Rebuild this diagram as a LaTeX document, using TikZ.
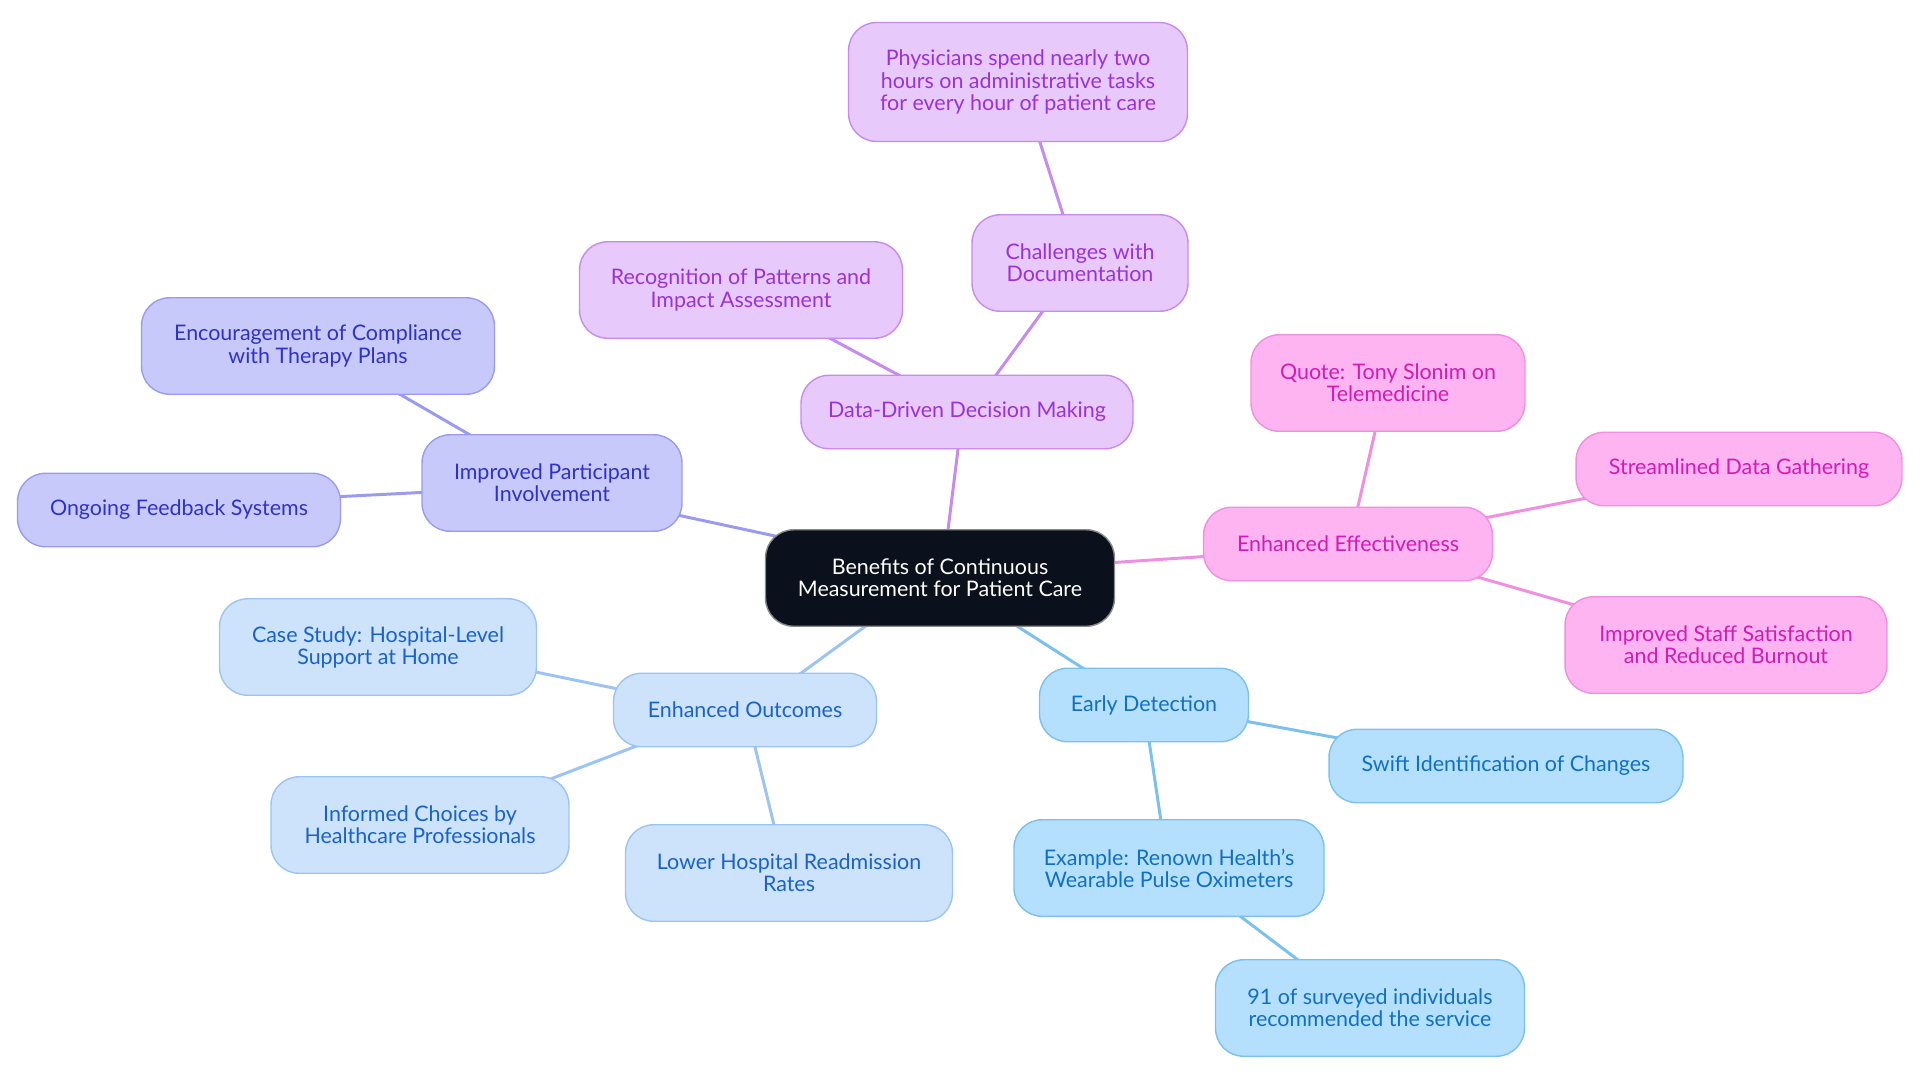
\documentclass[tikz,border=0pt]{standalone}
\usepackage{fontspec}
\setmainfont{Lato}
\definecolor{RootFill}{HTML}{0B111C}
\definecolor{RootLine}{HTML}{8A8A8A}
\definecolor{PurpleFill}{HTML}{E7C9FB}
\definecolor{PurpleLine}{HTML}{C78BF0}
\definecolor{PurpleText}{HTML}{9B32D9}
\definecolor{VioletFill}{HTML}{C8C9FB}
\definecolor{VioletLine}{HTML}{9A9BF0}
\definecolor{VioletText}{HTML}{2F32C9}
\definecolor{PinkFill}{HTML}{FDB4F1}
\definecolor{PinkLine}{HTML}{F08FE0}
\definecolor{PinkText}{HTML}{D21BB4}
\definecolor{SkyFill}{HTML}{B4E0FD}
\definecolor{SkyLine}{HTML}{7CC0F0}
\definecolor{SkyText}{HTML}{1170C2}
\definecolor{PaleFill}{HTML}{CCE3FB}
\definecolor{PaleLine}{HTML}{9CC4F2}
\definecolor{PaleText}{HTML}{1A62CB}
\usetikzlibrary{
    positioning,
    calc,
    backgrounds,
}

\tikzset{
    mapbox/.style={rectangle, rounded corners=0.56cm, line width=0.8pt, align=center,
        inner sep=2pt, minimum height=1.47cm, font=\fontsize{12.2}{12.6}\selectfont},
    rootbox/.style={mapbox, draw=RootLine, fill=RootFill, text=white},
    purplebox/.style={mapbox, draw=PurpleLine, fill=PurpleFill, text=PurpleText},
    violetbox/.style={mapbox, draw=VioletLine, fill=VioletFill, text=VioletText},
    pinkbox/.style={mapbox, draw=PinkLine, fill=PinkFill, text=PinkText},
    skybox/.style={mapbox, draw=SkyLine, fill=SkyFill, text=SkyText},
    palebox/.style={mapbox, draw=PaleLine, fill=PaleFill, text=PaleText},
    twoline/.style={minimum height=1.93cm},
    link/.style={line width=1.7pt},
}

\begin{document}
\begin{tikzpicture}[x=0.02cm, y=-0.02cm]
    \useasboundingbox (0,0) rectangle (1920,1083);

    % centre
    \node[rootbox, twoline, minimum width=6.98cm] (root) at (940,578) {Benefits of Continuous\\Measurement for Patient Care};

    % data-driven branch
    \node[purplebox, minimum width=6.64cm] (ddm) at (967,412) {Data-Driven Decision Making};
    \node[purplebox, twoline, minimum width=6.46cm] (recog) at (741,290) {Recognition of Patterns and\\Impact Assessment};
    \node[purplebox, twoline, minimum width=4.32cm] (chall) at (1080,263) {Challenges with\\Documentation};
    \node[purplebox, minimum width=6.78cm, minimum height=2.38cm] (phys) at (1018,82) {Physicians spend nearly two\\hours on administrative tasks\\for every hour of patient care};

    % participant branch
    \node[violetbox, twoline, minimum width=5.2cm] (ipi) at (552,483) {Improved Participant\\Involvement};
    \node[violetbox, twoline, minimum width=7.06cm] (enc) at (318,346) {Encouragement of Compliance\\with Therapy Plans};
    \node[violetbox, minimum width=6.46cm] (ongoing) at (179,510) {Ongoing Feedback Systems};

    % effectiveness branch
    \node[pinkbox, minimum width=5.78cm] (ee) at (1348,544) {Enhanced Effectiveness};
    \node[pinkbox, twoline, minimum width=5.48cm] (quote) at (1388,383) {Quote: Tony Slonim on\\Telemedicine};
    \node[pinkbox, minimum width=6.52cm] (sdg) at (1739,469) {Streamlined Data Gathering};
    \node[pinkbox, twoline, minimum width=6.44cm] (iss) at (1726,645) {Improved Staff Satisfaction\\and Reduced Burnout};

    % detection branch
    \node[skybox, minimum width=4.18cm] (ed) at (1144,705) {Early Detection};
    \node[skybox, minimum width=7.08cm] (swift) at (1506,766) {Swift Identification of Changes};
    \node[skybox, twoline, minimum width=6.2cm] (renown) at (1169,868) {Example: Renown Health’s\\Wearable Pulse Oximeters};
    \node[skybox, twoline, minimum width=6.18cm] (survey) at (1370,1008) {91 of surveyed individuals\\recommended the service};

    % outcomes branch
    \node[palebox, minimum width=5.26cm] (eo) at (745,710) {Enhanced Outcomes};
    \node[palebox, twoline, minimum width=6.34cm] (case) at (378,647) {Case Study: Hospital-Level\\Support at Home};
    \node[palebox, twoline, minimum width=5.96cm] (informed) at (420,825) {Informed Choices by\\Healthcare Professionals};
    \node[palebox, twoline, minimum width=6.54cm] (lower) at (789,873) {Lower Hospital Readmission\\Rates};

    \begin{scope}[on background layer]
        \draw[link, PurpleLine] ($(root)+(7,-40)$) -- ($(ddm)+(-8,29)$);
        \draw[link, PurpleLine] ($(ddm)+(-61,-33)$) -- ($(recog)+(81,44)$);
        \draw[link, PurpleLine] ($(ddm)+(24,-30)$) -- ($(chall)+(-32,41)$);
        \draw[link, PurpleLine] ($(chall)+(-14,-39)$) -- ($(phys)+(19,51)$);

        \draw[link, VioletLine] ($(root)+(-151,-39)$) -- ($(ipi)+(116,30)$);
        \draw[link, VioletLine] ($(ipi)+(-75,-44)$) -- ($(enc)+(78,46)$);
        \draw[link, VioletLine] ($(ipi)+(-122,9)$) -- ($(ongoing)+(153,-13)$);

        \draw[link, PinkLine] ($(root)+(166,-15)$) -- ($(ee)+(-136,12)$);
        \draw[link, PinkLine] ($(ee)+(8,-29)$) -- ($(quote)+(-11,40)$);
        \draw[link, PinkLine] ($(ee)+(126,-24)$) -- ($(sdg)+(-142,27)$);
        \draw[link, PinkLine] ($(ee)+(119,30)$) -- ($(iss)+(-141,-37)$);

        \draw[link, SkyLine] ($(root)+(69,43)$) -- ($(ed)+(-52,-31)$);
        \draw[link, SkyLine] ($(ed)+(95,15)$) -- ($(swift)+(-157,-26)$);
        \draw[link, SkyLine] ($(ed)+(4,29)$) -- ($(renown)+(-7,-40)$);
        \draw[link, SkyLine] ($(renown)+(63,42)$) -- ($(survey)+(-64,-42)$);

        \draw[link, PaleLine] ($(root)+(-66,42)$) -- ($(eo)+(48,-31)$);
        \draw[link, PaleLine] ($(eo)+(-117,-19)$) -- ($(case)+(148,23)$);
        \draw[link, PaleLine] ($(eo)+(-98,32)$) -- ($(informed)+(120,-42)$);
        \draw[link, PaleLine] ($(eo)+(8,29)$) -- ($(lower)+(-13,-40)$);
    \end{scope}
\end{tikzpicture}
\end{document}
